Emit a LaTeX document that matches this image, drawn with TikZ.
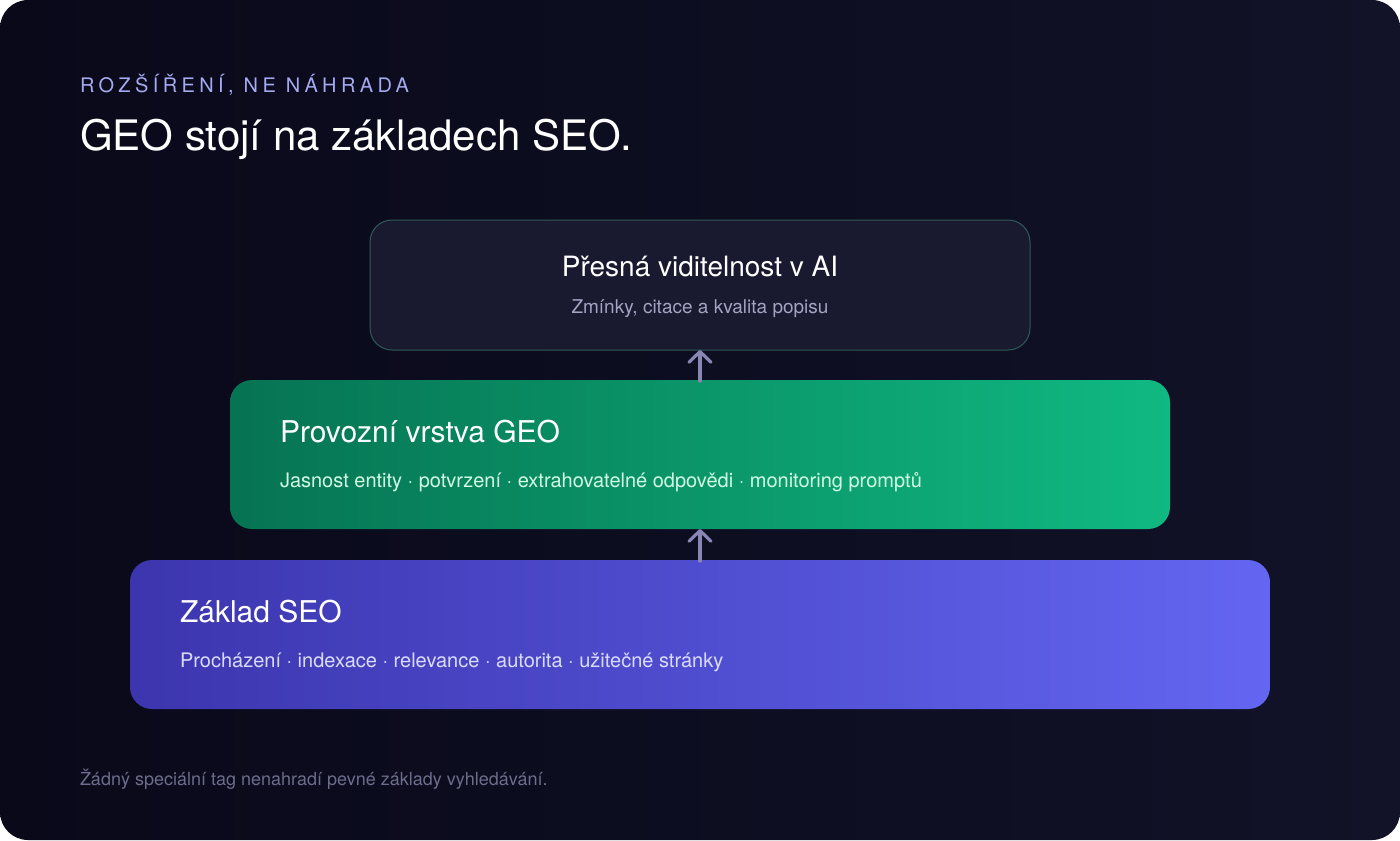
\documentclass[tikz,border=0pt]{standalone}
\usepackage{fontspec}
\setmainfont{TeX Gyre Heros}
\newfontfamily\spacedfont[LetterSpace=22]{TeX Gyre Heros}
\usetikzlibrary{arrows.meta}
\definecolor{bgA}{HTML}{09091A}
\definecolor{bgB}{HTML}{121228}
\definecolor{topfill}{HTML}{191A2F}
\definecolor{topborder}{HTML}{2D5A58}
\definecolor{arrowc}{HTML}{8A86B4}
\definecolor{grA}{HTML}{067352}
\definecolor{grB}{HTML}{10B981}
\definecolor{inA}{HTML}{3C35AE}
\definecolor{inB}{HTML}{6366F1}
\definecolor{labelc}{HTML}{A5A9F0}
\definecolor{topsub}{HTML}{A3A3C2}
\definecolor{midsub}{HTML}{D1FAE5}
\definecolor{botsub}{HTML}{DADCFF}
\definecolor{footc}{HTML}{6C6C8C}
\begin{document}
\begin{tikzpicture}[x=0.75pt,y=-0.75pt,
  txt/.style={inner sep=0pt, outer sep=0pt},
  layer/.style={rounded corners=16.5pt, inner sep=0pt, outer sep=0pt},
  uparrow/.style={draw=arrowc, line width=2.4pt, line cap=round,
    -{Straight Barb[length=8pt, width=16.5pt, line cap=round, line join=round]}},
  ttl/.style={txt, text=white, font=\fontsize{22.5pt}{26pt}\selectfont},
  sub/.style={txt, font=\fontsize{15pt}{18pt}\selectfont}]
\useasboundingbox (0,0) rectangle (1400,840);
\shade[left color=bgA, right color=bgB, rounded corners=21pt] (0,0) rectangle (1400,840);

% header
\node[txt, anchor=base west, text=labelc, font=\spacedfont\fontsize{15pt}{18pt}\selectfont] (label) at (80,92) {ROZŠÍŘENÍ, NE NÁHRADA};
\node[txt, anchor=base west, text=white, font=\fontsize{31.5pt}{36pt}\selectfont] (title) at (80,150) {GEO stojí na základech SEO.};

% layers
\node[layer, fill=topfill, draw=topborder, line width=0.75pt, minimum width=495pt, minimum height=97.5pt] (top) at (700,285) {};
\node[layer, left color=grA, right color=grB, minimum width=705pt, minimum height=111.75pt] (mid) at (700,454.5) {};
\node[layer, left color=inA, right color=inB, minimum width=855pt, minimum height=111.75pt] (bot) at (700,634.5) {};

% texts
\node[txt, anchor=base, text=white, font=\fontsize{21pt}{24pt}\selectfont] (toptitle) at (700,276) {Přesná viditelnost v AI};
\node[txt, anchor=base, text=topsub, font=\fontsize{14.25pt}{17pt}\selectfont] (topsubt) at (700,313) {Zmínky, citace a kvalita popisu};

\node[ttl, anchor=base west] (midtitle) at (280,442) {Provozní vrstva GEO};
\node[sub, anchor=base west, text=midsub] (midsubt) at (280,487) {Jasnost entity · potvrzení · extrahovatelné odpovědi · monitoring promptů};

\node[ttl, anchor=base west] (bottitle) at (180,622) {Základ SEO};
\node[sub, anchor=base west, text=botsub] (botsubt) at (180,667) {Procházení · indexace · relevance · autorita · užitečné stránky};

% arrows
\draw[uparrow] ([yshift=-0.75pt]mid.north) -- (top.south);
\draw[uparrow] ([yshift=-0.75pt]bot.north) -- (mid.south);

% footer
\node[txt, anchor=base west, text=footc, font=\fontsize{13.5pt}{16pt}\selectfont] (foot) at (80,785) {Žádný speciální tag nenahradí pevné základy vyhledávání.};
\end{tikzpicture}
\end{document}
